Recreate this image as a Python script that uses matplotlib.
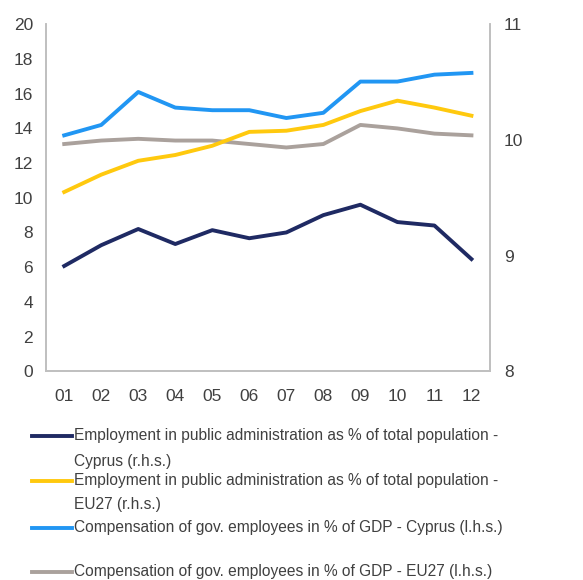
import matplotlib
matplotlib.use("Agg")
import matplotlib.pyplot as plt
from matplotlib.lines import Line2D

plt.rcParams["font.family"] = ["Liberation Sans", "DejaVu Sans"]

YEARS = ["01", "02", "03", "04", "05", "06", "07", "08", "09", "10", "11", "12"]

# left axis, % of GDP
COMP_CYPRUS = [13.6, 14.2, 16.1, 15.2, 15.05, 15.05, 14.6, 14.9, 16.7, 16.7, 17.1, 17.2]
COMP_EU27 = [13.1, 13.3, 13.4, 13.3, 13.3, 13.1, 12.9, 13.1, 14.2, 14.0, 13.7, 13.6]

# right axis, % of total population
EMPL_CYPRUS = [8.91, 9.09, 9.23, 9.10, 9.22, 9.15, 9.20, 9.35, 9.44, 9.29, 9.26, 8.97]
EMPL_EU27 = [9.55, 9.70, 9.82, 9.87, 9.95, 10.07, 10.08, 10.13, 10.25, 10.34, 10.28, 10.21]

NAVY = "#1f2a63"
YELLOW = "#ffc90e"
BLUE = "#2196f3"
GREY = "#aaa19c"
TXT = "#404040"
SPINE = "#bfbfbf"

fig = plt.figure(figsize=(5.83, 5.80), dpi=100)
ax = fig.add_axes([0.0784, 0.360, 0.762, 0.598])
ax2 = ax.twinx()

x = range(len(YEARS))
lw = 2.8
ax.plot(x, COMP_CYPRUS, color=BLUE, linewidth=lw)
ax.plot(x, COMP_EU27, color=GREY, linewidth=lw)
ax2.plot(x, EMPL_EU27, color=YELLOW, linewidth=lw)
ax2.plot(x, EMPL_CYPRUS, color=NAVY, linewidth=lw)

ax.set_xlim(-0.5, len(YEARS) - 0.5)
ax.set_ylim(0, 20)
ax.set_yticks(range(0, 21, 2))
ax2.set_ylim(8, 11)
ax2.set_yticks([8, 9, 10, 11])
ax.set_xticks(list(x))
ax.set_xticklabels(YEARS)

for a in (ax, ax2):
    for s in a.spines.values():
        s.set_color(SPINE)
        s.set_linewidth(1.2)
    a.spines["top"].set_visible(False)
    a.tick_params(length=0, labelsize=12.5, colors=TXT)
ax.tick_params(axis="x", pad=13)
ax.tick_params(axis="y", pad=9)
ax2.tick_params(axis="y", pad=10)

# legend drawn by hand: handle on first line of each entry
entries = [
    (NAVY, ["Employment in public administration as % of total population -", "Cyprus (r.h.s.)"]),
    (YELLOW, ["Employment in public administration as % of total population -", "EU27 (r.h.s.)"]),
    (BLUE, ["Compensation of gov. employees in % of GDP - Cyprus (l.h.s.)", ""]),
    (GREY, ["Compensation of gov. employees in % of GDP - EU27 (l.h.s.)", ""]),
]
rows = [(435.7, 461.7), (481.0, 505.0), (527.7, 550.0), (571.7, 594.0)]
W, H = 583.0, 580.0
for (color, lines), (y1, y2) in zip(entries, rows):
    fy = 1 - y1 / H
    fig.add_artist(Line2D([32 / W, 72 / W], [fy, fy], color=color,
                          linewidth=2.8, transform=fig.transFigure))
    for text, yy in zip(lines, (y1, y2)):
        if text:
            fig.text(74 / W, 1 - yy / H, text, ha="left", va="center",
                     fontsize=11.2, color=TXT)

fig.savefig("out.png", dpi=100)
